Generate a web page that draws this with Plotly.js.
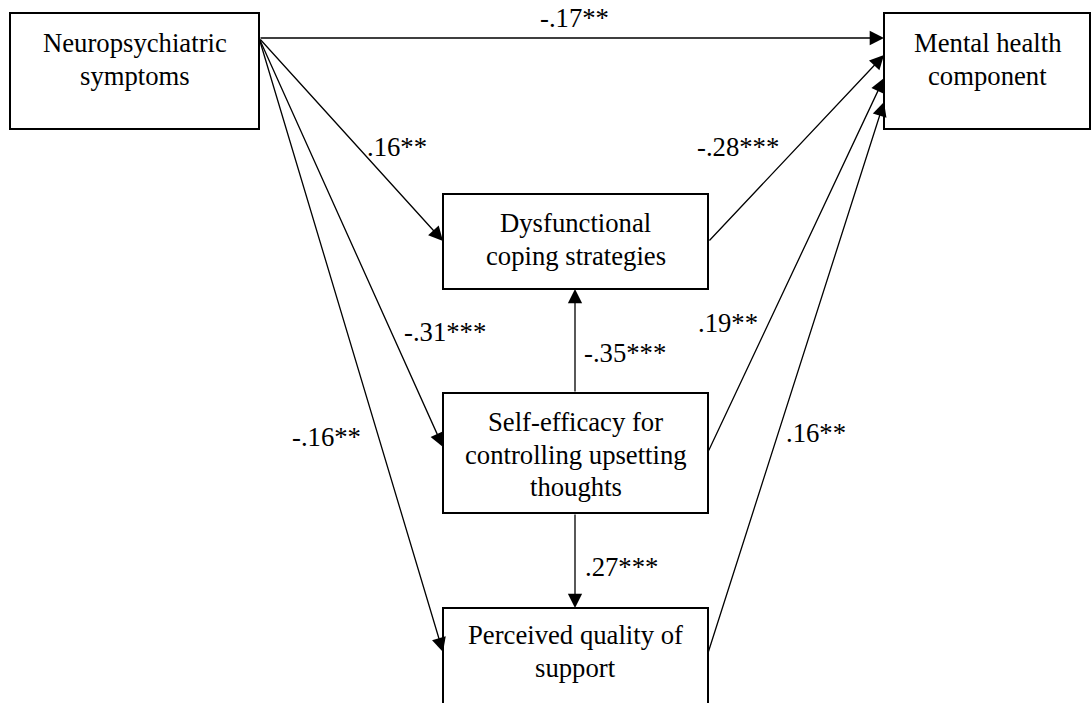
<!DOCTYPE html>
<html>
<head>
<meta charset="utf-8">
<script src="https://cdn.plot.ly/plotly-3.0.1.min.js"></script>
<style>html,body{margin:0;padding:0;background:#fff;}#chart{width:1092px;height:703px;}</style>
</head>
<body>
<div id="chart"></div>
<script>
// ---- Data: node labels and path coefficients ----
const nodeLabels = [
  "Neuropsychiatric<br>symptoms",
  "Mental health<br>component",
  "Dysfunctional<br>coping strategies",
  "Self-efficacy for<br>controlling upsetting<br>thoughts",
  "Perceived quality of<br>support"
];
const pathFrom = [0, 0, 0, 0, 2, 3, 4, 3, 3];
const pathTo   = [1, 2, 3, 4, 1, 1, 1, 2, 4];
const pathCoefficients = ["-.17**", ".16**", "-.31***", "-.16**", "-.28***", ".19**", ".16**", "-.35***", ".27***"];

// ---- Geometry (layout only) ----
const boxes = [
  {x0: 10,  x1: 259,  y0: 13,  y1: 129, ty: 43},
  {x0: 884, x1: 1090, y0: 13,  y1: 129, ty: 43},
  {x0: 443, x1: 708,  y0: 194, y1: 289, ty: 223},
  {x0: 443, x1: 708,  y0: 393, y1: 513, ty: 422},
  {x0: 443, x1: 708,  y0: 608, y1: 720, ty: 635}
];
const lineGap = 32.7;
// tail and head points for each path
const arrowGeom = [
  {tx: 259, ty: 38,  hx: 884, hy: 38},
  {tx: 259, ty: 38,  hx: 443, hy: 241},
  {tx: 259, ty: 38,  hx: 443, hy: 447},
  {tx: 259, ty: 38,  hx: 443, hy: 652},
  {tx: 708, ty: 242, hx: 884, hy: 55},
  {tx: 708, ty: 452, hx: 884, hy: 78},
  {tx: 708, ty: 653, hx: 884, hy: 102},
  {tx: 575, ty: 393, hx: 575, hy: 289},
  {tx: 575, ty: 513, hx: 575, hy: 608}
];
const labelPos = [
  {x: 574, y: 18},
  {x: 397, y: 147},
  {x: 445, y: 332},
  {x: 326, y: 437},
  {x: 738, y: 147},
  {x: 728, y: 323},
  {x: 816, y: 433},
  {x: 625, y: 353},
  {x: 621, y: 567}
];

const FONT = {family: "Liberation Serif, Times New Roman, serif", size: 26.7, color: '#000'};

const shapes = boxes.map(b => ({
  type: 'rect', xref: 'x', yref: 'y',
  x0: b.x0, x1: b.x1, y0: b.y0, y1: b.y1,
  line: {color: '#000', width: 2}, fillcolor: 'rgba(0,0,0,0)'
}));

const annotations = [];
// node labels, one annotation per line
nodeLabels.forEach((lab, i) => {
  const b = boxes[i];
  lab.split('<br>').forEach((ln, j) => {
    annotations.push({
      x: (b.x0 + b.x1) / 2, y: b.ty + j * lineGap, xref: 'x', yref: 'y',
      text: ln, showarrow: false, font: FONT, xanchor: 'center', yanchor: 'middle'
    });
  });
});
// arrows
pathFrom.forEach((f, i) => {
  const g = arrowGeom[i];
  annotations.push({
    x: g.hx, y: g.hy, ax: g.tx, ay: g.ty,
    xref: 'x', yref: 'y', axref: 'x', ayref: 'y',
    text: '', showarrow: true, arrowhead: 2, arrowsize: 2.2, arrowwidth: 1.3,
    arrowcolor: '#000', standoff: 0, startstandoff: 0
  });
});
// coefficients
pathCoefficients.forEach((c, i) => {
  annotations.push({
    x: labelPos[i].x, y: labelPos[i].y, xref: 'x', yref: 'y',
    text: c, showarrow: false, font: FONT, xanchor: 'center', yanchor: 'middle'
  });
});

const layout = {
  width: 1092, height: 703,
  margin: {l: 0, r: 0, t: 0, b: 0, pad: 0},
  paper_bgcolor: '#fff', plot_bgcolor: '#fff',
  showlegend: false,
  font: FONT,
  xaxis: {range: [0, 1092], visible: false, fixedrange: true},
  yaxis: {range: [703, 0], visible: false, fixedrange: true},
  shapes: shapes,
  annotations: annotations
};

Plotly.newPlot('chart', [{x: [], y: [], type: 'scatter', mode: 'markers', hoverinfo: 'skip'}], layout, {staticPlot: true, displayModeBar: false});
</script>
</body>
</html>
